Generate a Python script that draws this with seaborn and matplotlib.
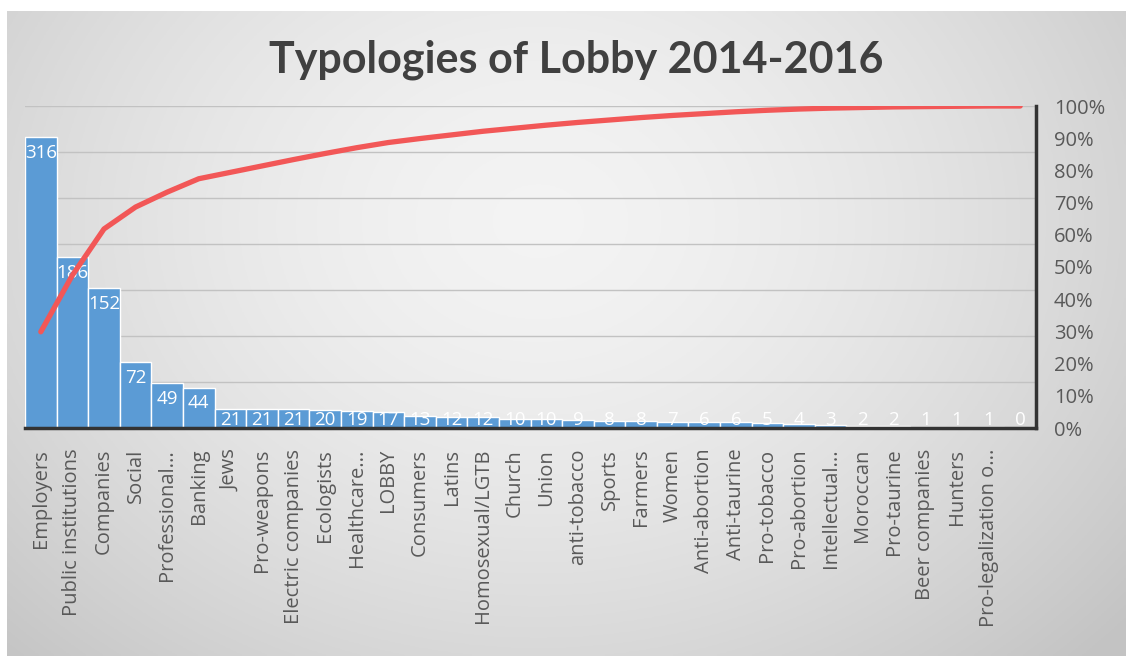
import numpy as np
import pandas as pd
import matplotlib
matplotlib.use("Agg")
import matplotlib.pyplot as plt
import seaborn as sns
from matplotlib.ticker import PercentFormatter, MultipleLocator

categories = ["Employers", "Public institutions", "Companies", "Social", "Professional...",
              "Banking", "Jews", "Pro-weapons", "Electric companies", "Ecologists",
              "Healthcare...", "LOBBY", "Consumers", "Latins", "Homosexual/LGTB", "Church",
              "Union", "anti-tobacco", "Sports", "Farmers", "Women", "Anti-abortion",
              "Anti-taurine", "Pro-tobacco", "Pro-abortion", "Intellectual...", "Moroccan",
              "Pro-taurine", "Beer companies", "Hunters", "Pro-legalization o...", " "]
counts = [316, 186, 152, 72, 49, 44, 21, 21, 21, 20, 19, 17, 13, 12, 12, 10, 10, 9,
          8, 8, 7, 6, 6, 5, 4, 3, 2, 2, 1, 1, 1, 0]
pct_ticks = [0, 0.1, 0.2, 0.3, 0.4, 0.5, 0.6, 0.7, 0.8, 0.9, 1.0]
title = "Typologies of Lobby 2014-2016"

df = pd.DataFrame({"category": categories, "count": counts})
df["cum"] = df["count"].cumsum() / df["count"].sum()

sns.set_theme(style="white")
plt.rcParams["font.family"] = ["Open Sans", "DejaVu Sans"]

W, H = 1126, 656
fig = plt.figure(figsize=(W / 100, H / 100), dpi=100, facecolor="white")

# gradient background panel
bg = fig.add_axes([7 / W, 0, 1 - 7 / W, 1 - 11 / H], zorder=-10)
gx, gy = np.meshgrid(np.linspace(-1, 1, 400), np.linspace(-1, 1, 240))
r = np.sqrt(((gx + 0.05) / 1.15) ** 2 + ((gy + 0.35) / 1.6) ** 2)
shade = 0.955 - 0.14 * np.clip(r, 0, 1.2) ** 1.6
bg.imshow(np.dstack([shade] * 3), aspect="auto", extent=[0, 1, 0, 1], origin="upper")
bg.axis("off")

ax = fig.add_axes([25 / W, 1 - 428 / H, (1036 - 25) / W, (428 - 106) / H])
ax.patch.set_visible(False)
sns.barplot(data=df, x="category", y="count", order=categories, color="#5B9BD5",
            saturation=1, width=1.0, edgecolor="white", linewidth=1.0, ax=ax, zorder=2)
ax.set_ylim(0, 350)
ax.set_xlim(-0.5, len(categories) - 0.5)
ax.yaxis.set_major_locator(MultipleLocator(50))
ax.grid(axis="y", color="#c2c2c2", linewidth=1.0, zorder=0)
ax.set_axisbelow(True)
ax.set_yticklabels([])
ax.tick_params(axis="y", length=0)
ax.tick_params(axis="x", length=0, pad=15, labelsize=14.5, labelcolor="#595959")
for lbl in ax.get_xticklabels():
    lbl.set_rotation(90)
    lbl.set_ha("center")
    lbl.set_va("top")
ax.set_xlabel("")
ax.set_ylabel("")
for s in ["left", "top", "right"]:
    ax.spines[s].set_visible(False)
ax.spines["bottom"].set_color("#333333")
ax.spines["bottom"].set_linewidth(2.5)

for i, v in enumerate(counts):
    ax.annotate(str(v), (i, max(v, 26)), xytext=(0, -5), textcoords="offset points",
                ha="center", va="top", color="white", fontsize=13.5, zorder=5)

ax2 = ax.twinx()
ax2.patch.set_visible(False)
sns.lineplot(x=np.arange(len(categories)), y=df["cum"].values, color="#F25757",
             linewidth=3.8, ax=ax2, zorder=4)
ax2.set_ylim(0, 1.0)
ax2.set_yticks(pct_ticks)
ax2.yaxis.set_major_formatter(PercentFormatter(1.0, decimals=0))
ax2.tick_params(axis="y", length=0, pad=13, labelsize=14.5, labelcolor="#595959")
ax2.set_xlim(-0.5, len(categories) - 0.5)
for s in ["left", "top", "bottom"]:
    ax2.spines[s].set_visible(False)
ax2.spines["right"].set_color("#333333")
ax2.spines["right"].set_linewidth(2.5)

fig.text(0.512, 1 - 60 / H, title, ha="center", va="center", fontsize=31,
         fontweight="bold", color="#404040", family=["Lato", "DejaVu Sans"])

fig.savefig("out.png", dpi=100, facecolor="white")
